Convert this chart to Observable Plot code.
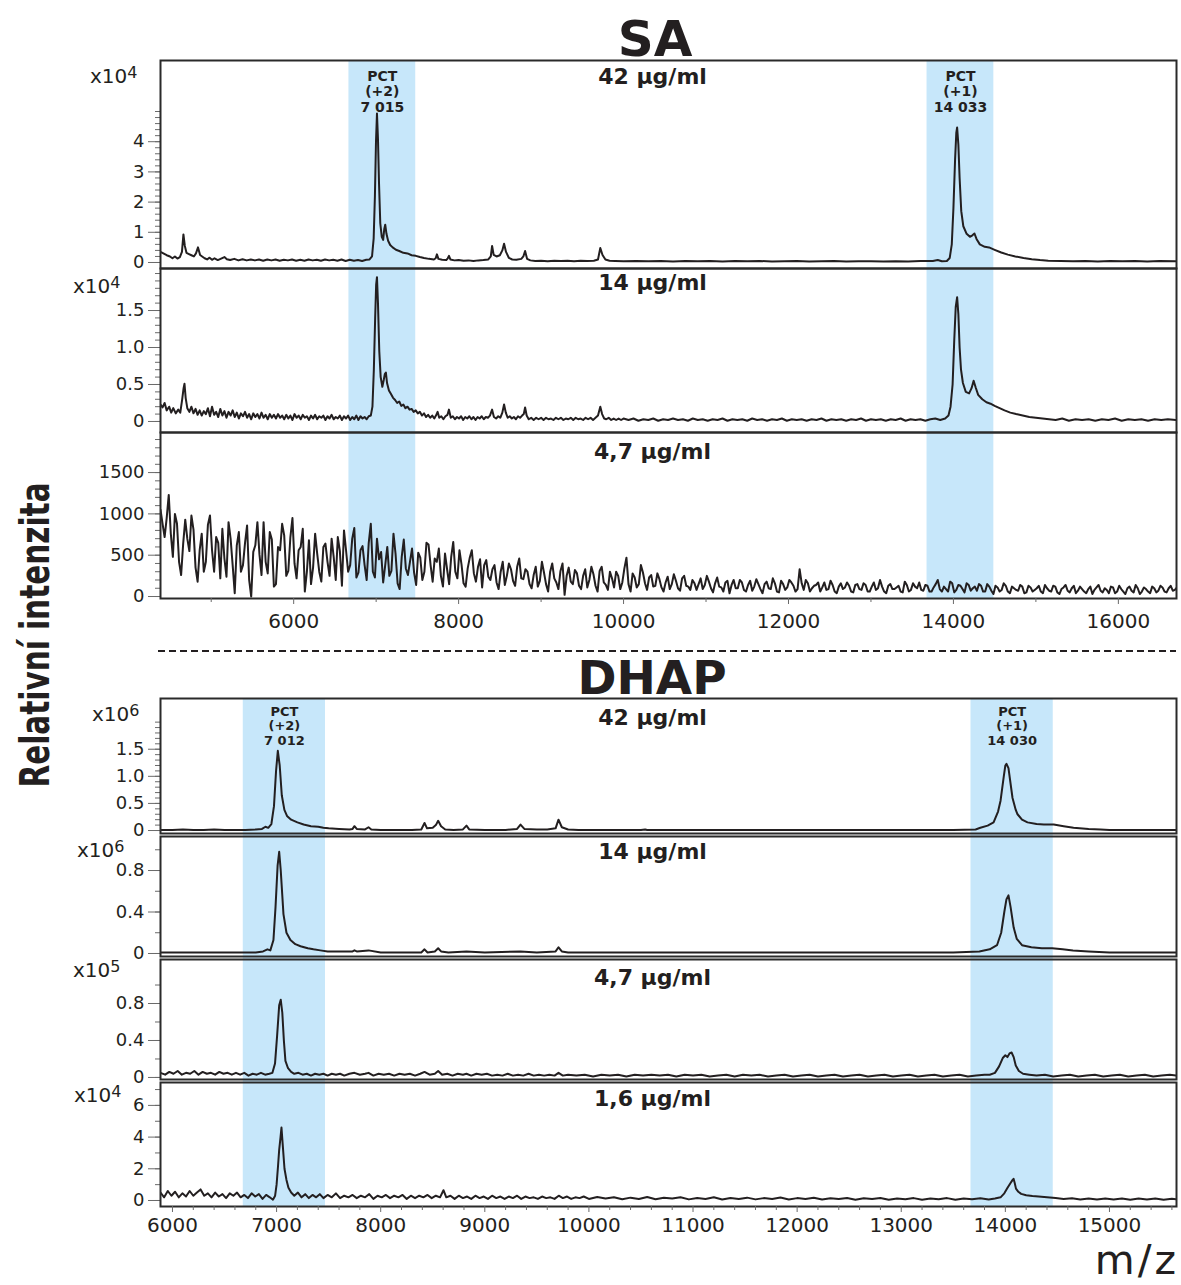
<!DOCTYPE html>
<html><head><meta charset="utf-8">
<script src="https://cdn.jsdelivr.net/npm/d3@7"></script>
<script src="https://cdn.jsdelivr.net/npm/@observablehq/plot@0.6"></script>
<style>
body{margin:0;background:#fff;}
#root{position:relative;width:1181px;height:1285px;overflow:hidden;font-family:"DejaVu Sans",sans-serif;color:#231f20;}
.pow{position:absolute;font-size:20px;line-height:20px;white-space:nowrap;}
.pow .sup{font-size:16px;position:relative;top:-5px;}
.ttl{position:absolute;font-weight:bold;white-space:nowrap;transform:translateX(-50%);}
</style></head><body><div id="root"></div>
<script>
// ---------- data ----------
const saXDomain = [4385, 16705];
const dhapXDomain = [5885, 15644];
const saBands = [[6670, 7480], [13680, 14490]];
const dhapBands = [[6680, 7470], [13670, 14460]];
const saPctTexts = ["PCT\n(+2)\n7 015", "PCT\n(+1)\n14 033"];
const dhapPctTexts = ["PCT\n(+2)\n7 012", "PCT\n(+1)\n14 030"];
const saXTicks = [6000, 8000, 10000, 12000, 14000, 16000];
const saXMinor = [5000, 7000, 9000, 11000, 13000, 15000];
const dhapXTicks = [6000, 7000, 8000, 9000, 10000, 11000, 12000, 13000, 14000, 15000];
const saLabels = ["42 µg/ml", "14 µg/ml", "4,7 µg/ml"];
const dhapLabels = ["42 µg/ml", "14 µg/ml", "4,7 µg/ml", "1,6 µg/ml"];

// SA 42 µg/ml (x10^4)
const sa42 = [[4385,0.35],[4420,0.3],[4460,0.24],[4500,0.2],[4530,0.14],[4560,0.2],[4590,0.13],[4620,0.18],[4645,0.35],[4663,0.93],[4680,0.55],[4700,0.32],[4730,0.28],[4760,0.24],[4790,0.2],[4815,0.3],[4840,0.5],[4865,0.25],[4890,0.2],[4920,0.14],[4950,0.1],[4980,0.16],[5010,0.09],[5040,0.14],[5080,0.08],[5120,0.13],[5160,0.18],[5190,0.11],[5230,0.08],[5280,0.12],[5330,0.07],[5380,0.11],[5430,0.07],[5480,0.1],[5530,0.07],[5580,0.1],[5630,0.06],[5680,0.1],[5730,0.07],[5780,0.1],[5830,0.06],[5880,0.09],[5930,0.07],[5980,0.1],[6030,0.06],[6080,0.09],[6130,0.06],[6180,0.1],[6230,0.07],[6280,0.09],[6330,0.06],[6380,0.1],[6430,0.07],[6480,0.09],[6530,0.06],[6580,0.1],[6630,0.05],[6680,0.09],[6730,0.06],[6780,0.08],[6830,0.05],[6880,0.09],[6920,0.1],[6950,0.2],[6970,0.8],[6985,2.2],[6998,4.0],[7010,4.93],[7022,4.1],[7035,2.6],[7050,1.3],[7068,0.85],[7085,0.75],[7098,1.1],[7110,1.25],[7125,0.95],[7145,0.72],[7170,0.58],[7200,0.5],[7240,0.42],[7280,0.38],[7330,0.32],[7380,0.3],[7430,0.24],[7480,0.22],[7530,0.18],[7580,0.15],[7640,0.12],[7700,0.1],[7722,0.14],[7737,0.27],[7755,0.12],[7800,0.09],[7850,0.08],[7868,0.14],[7883,0.22],[7900,0.1],[7950,0.07],[8000,0.08],[8060,0.06],[8120,0.07],[8180,0.05],[8240,0.07],[8300,0.08],[8360,0.1],[8390,0.2],[8406,0.55],[8425,0.25],[8460,0.2],[8500,0.24],[8530,0.4],[8551,0.62],[8575,0.35],[8610,0.15],[8650,0.1],[8700,0.09],[8760,0.12],[8785,0.2],[8806,0.38],[8830,0.12],[8870,0.07],[8930,0.05],[9000,0.06],[9080,0.04],[9160,0.06],[9240,0.05],[9320,0.06],[9400,0.04],[9480,0.06],[9560,0.05],[9640,0.06],[9690,0.1],[9718,0.48],[9745,0.25],[9780,0.1],[9830,0.06],[9900,0.05],[10000,0.04],[10150,0.05],[10300,0.04],[10450,0.05],[10600,0.03],[10750,0.05],[10900,0.04],[11050,0.05],[11200,0.03],[11350,0.05],[11500,0.04],[11650,0.05],[11800,0.03],[11950,0.04],[12100,0.05],[12250,0.03],[12400,0.04],[12550,0.05],[12700,0.03],[12850,0.04],[13000,0.04],[13150,0.03],[13300,0.04],[13450,0.03],[13600,0.05],[13750,0.05],[13810,0.08],[13860,0.04],[13920,0.05],[13955,0.15],[13980,0.6],[14000,1.8],[14020,3.4],[14035,4.3],[14045,4.47],[14060,3.9],[14075,2.8],[14095,1.7],[14120,1.2],[14160,0.95],[14200,0.85],[14230,0.9],[14255,0.96],[14280,0.78],[14320,0.6],[14380,0.52],[14432,0.5],[14500,0.42],[14580,0.33],[14660,0.26],[14750,0.2],[14850,0.15],[14950,0.11],[15050,0.08],[15150,0.06],[15300,0.05],[15450,0.04],[15600,0.05],[15750,0.03],[15900,0.05],[16050,0.04],[16200,0.05],[16350,0.03],[16500,0.05],[16705,0.04]];

// SA 14 µg/ml (x10^4)
const sa14 = [[4385,0.23],[4410,0.19],[4435,0.25],[4460,0.15],[4490,0.2],[4515,0.12],[4540,0.18],[4570,0.11],[4600,0.16],[4625,0.12],[4648,0.3],[4665,0.45],[4676,0.51],[4690,0.32],[4710,0.18],[4735,0.13],[4760,0.2],[4785,0.11],[4810,0.17],[4835,0.09],[4860,0.15],[4885,0.08],[4910,0.14],[4935,0.1],[4960,0.18],[4985,0.07],[5010,0.2],[5035,0.09],[5060,0.13],[5085,0.06],[5110,0.17],[5135,0.08],[5160,0.14],[5185,0.05],[5210,0.13],[5235,0.08],[5260,0.15],[5285,0.06],[5310,0.12],[5335,0.04],[5360,0.11],[5385,0.07],[5410,0.13],[5435,0.05],[5460,0.1],[5485,0.03],[5510,0.11],[5535,0.06],[5560,0.1],[5585,0.04],[5610,0.12],[5635,0.05],[5660,0.09],[5685,0.03],[5710,0.1],[5735,0.05],[5760,0.09],[5785,0.04],[5810,0.1],[5835,0.05],[5860,0.08],[5885,0.03],[5910,0.09],[5935,0.04],[5960,0.08],[5985,0.02],[6010,0.1],[6035,0.05],[6060,0.08],[6085,0.03],[6110,0.09],[6135,0.05],[6160,0.07],[6185,0.02],[6210,0.08],[6235,0.04],[6260,0.09],[6285,0.03],[6310,0.07],[6335,0.05],[6360,0.08],[6385,0.02],[6410,0.07],[6435,0.04],[6460,0.09],[6485,0.03],[6510,0.06],[6535,0.04],[6560,0.08],[6585,0.02],[6610,0.07],[6635,0.04],[6660,0.08],[6685,0.02],[6710,0.06],[6735,0.03],[6760,0.08],[6785,0.02],[6810,0.07],[6835,0.04],[6860,0.06],[6885,0.03],[6910,0.07],[6935,0.08],[6955,0.2],[6972,0.7],[6988,1.4],[7000,1.85],[7010,1.95],[7022,1.6],[7038,0.95],[7055,0.6],[7075,0.47],[7092,0.56],[7105,0.64],[7118,0.66],[7132,0.52],[7155,0.42],[7180,0.37],[7205,0.32],[7230,0.29],[7255,0.25],[7280,0.27],[7305,0.21],[7330,0.23],[7355,0.18],[7380,0.2],[7405,0.16],[7430,0.17],[7455,0.13],[7480,0.15],[7505,0.11],[7530,0.13],[7555,0.08],[7580,0.11],[7605,0.06],[7630,0.09],[7655,0.05],[7680,0.08],[7705,0.04],[7725,0.08],[7745,0.13],[7765,0.05],[7790,0.07],[7815,0.03],[7840,0.07],[7865,0.09],[7883,0.16],[7905,0.05],[7930,0.07],[7955,0.03],[7980,0.06],[8005,0.04],[8030,0.07],[8055,0.02],[8080,0.06],[8105,0.04],[8130,0.07],[8155,0.03],[8180,0.06],[8205,0.02],[8230,0.06],[8255,0.04],[8280,0.07],[8305,0.03],[8330,0.06],[8355,0.05],[8380,0.08],[8406,0.16],[8428,0.06],[8455,0.04],[8480,0.07],[8505,0.05],[8530,0.12],[8551,0.23],[8572,0.12],[8595,0.05],[8620,0.07],[8645,0.04],[8670,0.06],[8695,0.03],[8720,0.07],[8745,0.05],[8770,0.08],[8790,0.1],[8806,0.19],[8825,0.08],[8850,0.03],[8880,0.05],[8910,0.02],[8940,0.05],[8970,0.03],[9000,0.05],[9030,0.02],[9060,0.05],[9090,0.03],[9120,0.04],[9150,0.02],[9180,0.05],[9210,0.03],[9240,0.05],[9270,0.02],[9300,0.04],[9330,0.03],[9360,0.05],[9390,0.02],[9420,0.05],[9450,0.03],[9480,0.04],[9510,0.02],[9540,0.05],[9570,0.03],[9600,0.05],[9630,0.02],[9660,0.05],[9690,0.08],[9718,0.2],[9740,0.1],[9765,0.04],[9790,0.03],[9820,0.05],[9850,0.02],[9880,0.04],[9910,0.02],[9940,0.04],[9970,0.02],[10000,0.04],[10060,0.02],[10120,0.04],[10180,0.01],[10240,0.03],[10300,0.02],[10360,0.04],[10420,0.01],[10480,0.03],[10540,0.02],[10600,0.04],[10660,0.02],[10720,0.03],[10780,0.01],[10840,0.04],[10900,0.02],[10960,0.03],[11020,0.01],[11080,0.03],[11140,0.02],[11200,0.04],[11260,0.01],[11320,0.03],[11380,0.02],[11440,0.03],[11500,0.01],[11560,0.04],[11620,0.02],[11680,0.03],[11740,0.01],[11800,0.03],[11860,0.02],[11920,0.04],[11980,0.01],[12040,0.03],[12100,0.02],[12160,0.03],[12220,0.01],[12280,0.03],[12340,0.02],[12400,0.04],[12460,0.01],[12520,0.03],[12580,0.02],[12640,0.03],[12700,0.01],[12760,0.03],[12820,0.02],[12880,0.04],[12940,0.01],[13000,0.03],[13060,0.02],[13120,0.03],[13180,0.01],[13240,0.03],[13300,0.02],[13360,0.04],[13420,0.01],[13480,0.03],[13540,0.02],[13600,0.03],[13660,0.01],[13720,0.03],[13780,0.04],[13840,0.02],[13900,0.04],[13940,0.08],[13965,0.2],[13990,0.5],[14010,1.1],[14028,1.55],[14045,1.68],[14060,1.45],[14075,1.0],[14092,0.7],[14115,0.52],[14150,0.4],[14190,0.38],[14220,0.45],[14245,0.55],[14270,0.46],[14300,0.36],[14350,0.3],[14400,0.26],[14450,0.24],[14500,0.21],[14560,0.18],[14620,0.15],[14690,0.12],[14760,0.1],[14840,0.08],[14920,0.06],[15000,0.05],[15080,0.04],[15160,0.03],[15240,0.02],[15320,0.04],[15400,0.01],[15480,0.03],[15560,0.02],[15640,0.03],[15720,0.01],[15800,0.03],[15880,0.02],[15960,0.04],[16040,0.01],[16120,0.03],[16200,0.02],[16280,0.03],[16360,0.01],[16440,0.03],[16520,0.02],[16600,0.03],[16705,0.02]];

// SA 4,7 µg/ml (raw): readings every 50 m/z from 4385, plus the readings in between (4410, 4460, ...)
const sa47Start = 4385, sa47Step = 50;
const sa47Values = [
1050,720,1230,480,880,260,930,550,810,180,
760,420,980,300,650,820,240,700,40,780,
380,860,0,620,510,900,280,690,150,560,
740,310,950,220,600,60,680,350,520,180,
640,250,480,720,130,560,380,830,290,610,
200,880,230,450,170,600,310,520,90,690,
260,580,140,470,300,630,180,420,250,520,
150,660,220,390,120,470,280,360,110,440,
200,380,90,420,250,330,130,460,210,300,
100,360,190,290,60,400,170,310,20,350,
150,280,90,330,200,270,60,360,140,300,
110,250,170,470,60,230,150,290,80,260,
130,210,60,240,150,190,70,250,120,200,
80,220,140,180,50,230,110,170,40,200,
100,170,60,190,120,150,40,180,90,160,
50,150,110,170,60,330,80,160,100,140,
60,170,90,140,40,160,110,130,50,150,
80,140,60,170,100,120,40,150,90,130,
50,140,80,120,170,70,130,60,150,90,
120,60,160,80,130,50,140,100,70,130,
60,120,30,110,80,130,40,100,70,120,
50,110,80,130,40,100,60,120,30,110,
70,100,40,120,60,90,30,110,70,100,
40,110,60,90,30,120,50,100,60,90,
40,100,70,110,50,130,80,190];
const sa47Between = [
880,950,760,1000,420,640,700,980,350,560,
300,870,560,720,220,460,900,380,620,300,
650,200,540,900,260,420,780,120,600,880,
250,720,400,560,820,300,150,760,300,600,
420,700,200,550,800,300,700,230,560,380,
650,300,700,540,380,250,760,160,480,340,
420,290,530,200,650,380,460,580,120,330,
480,300,560,160,340,560,180,450,380,240,
330,170,300,140,400,190,360,220,330,150,
260,120,420,150,300,220,90,400,250,180,
320,130,250,110,360,130,310,170,80,220,
300,90,340,150,280,110,380,160,230,120,
280,110,170,90,270,100,220,130,80,160,
150,90,250,100,160,120,60,190,140,100,
200,80,140,70,210,90,150,100,220,60,
190,80,200,130,90,160,200,60,130,170,
110,80,190,60,120,90,170,60,140,90,
160,60,120,80,200,60,130,90,110,60,
180,60,160,100,80,140,60,110,200,60,
90,180,50,140,90,160,70,120,150,60,
150,70,130,60,160,60,120,80,140,40,
130,60,100,60,140,70,130,50,90,140,
50,130,70,90,40,120,80,140,50,80,
120,40,130,60,100,70,140,30,110,60,
120,50,130,60,100,70,110];

// DHAP 42 µg/ml (x10^6)
const dhap42 = [[5885,0.01],[6000,0.01],[6100,0.02],[6200,0.01],[6300,0.01],[6400,0.02],[6500,0.01],[6600,0.01],[6700,0.01],[6800,0.02],[6860,0.03],[6893,0.07],[6920,0.05],[6950,0.12],[6975,0.45],[6995,1.1],[7012,1.47],[7030,1.2],[7050,0.65],[7075,0.38],[7100,0.27],[7140,0.2],[7200,0.15],[7260,0.11],[7330,0.08],[7400,0.07],[7450,0.05],[7500,0.04],[7600,0.03],[7700,0.02],[7730,0.03],[7748,0.08],[7770,0.03],[7850,0.02],[7883,0.06],[7910,0.02],[8000,0.01],[8100,0.01],[8200,0.01],[8300,0.01],[8390,0.02],[8421,0.14],[8445,0.04],[8500,0.05],[8530,0.1],[8552,0.18],[8580,0.08],[8620,0.02],[8700,0.01],[8790,0.02],[8824,0.09],[8850,0.02],[9000,0.01],[9100,0.01],[9200,0.01],[9310,0.03],[9343,0.11],[9380,0.03],[9500,0.02],[9600,0.02],[9680,0.04],[9708,0.2],[9740,0.06],[9800,0.02],[9900,0.01],[10000,0.01],[10500,0.01],[10540,0.02],[10560,0.01],[11000,0.01],[11500,0.01],[12000,0.01],[12500,0.01],[13000,0.01],[13500,0.01],[13714,0.02],[13760,0.05],[13830,0.09],[13887,0.15],[13930,0.35],[13954,0.55],[13985,1.0],[14000,1.2],[14011,1.23],[14030,1.15],[14069,0.6],[14100,0.38],[14117,0.3],[14160,0.2],[14213,0.15],[14300,0.12],[14370,0.11],[14465,0.11],[14560,0.08],[14655,0.05],[14800,0.03],[14914,0.02],[15000,0.01],[15300,0.01],[15644,0.01]];

// DHAP 14 µg/ml (x10^6)
const dhap14 = [[5885,0.01],[6000,0.01],[6200,0.01],[6400,0.01],[6600,0.01],[6800,0.01],[6870,0.02],[6912,0.04],[6940,0.03],[6970,0.13],[6990,0.45],[7010,0.85],[7025,0.98],[7040,0.8],[7066,0.38],[7095,0.2],[7133,0.13],[7180,0.09],[7230,0.07],[7300,0.05],[7354,0.04],[7420,0.03],[7490,0.02],[7600,0.02],[7730,0.02],[7748,0.03],[7770,0.02],[7883,0.03],[8000,0.01],[8200,0.01],[8390,0.01],[8421,0.04],[8450,0.01],[8520,0.02],[8552,0.05],[8580,0.02],[8650,0.01],[8824,0.02],[9000,0.01],[9343,0.02],[9500,0.01],[9680,0.02],[9708,0.06],[9740,0.02],[9800,0.01],[10500,0.01],[11500,0.01],[12500,0.01],[13500,0.01],[13750,0.02],[13850,0.04],[13920,0.08],[13960,0.2],[13990,0.4],[14010,0.52],[14030,0.56],[14050,0.45],[14080,0.25],[14110,0.14],[14160,0.08],[14250,0.06],[14350,0.05],[14450,0.05],[14550,0.04],[14650,0.03],[14800,0.02],[15000,0.01],[15644,0.01]];

// DHAP 4,7 µg/ml (x10^5)
const dhap47 = [[5885,0.05],[5930,0.03],[5970,0.06],[6010,0.04],[6050,0.07],[6090,0.03],[6130,0.05],[6170,0.04],[6210,0.07],[6250,0.03],[6290,0.06],[6330,0.04],[6370,0.05],[6410,0.03],[6450,0.06],[6490,0.04],[6530,0.05],[6570,0.03],[6610,0.05],[6650,0.03],[6690,0.05],[6730,0.02],[6770,0.04],[6810,0.03],[6850,0.05],[6890,0.03],[6930,0.04],[6960,0.05],[6985,0.15],[7005,0.45],[7025,0.78],[7040,0.84],[7055,0.7],[7070,0.4],[7085,0.18],[7110,0.1],[7140,0.06],[7170,0.04],[7210,0.05],[7250,0.03],[7290,0.04],[7330,0.02],[7370,0.04],[7410,0.03],[7450,0.04],[7490,0.02],[7530,0.04],[7570,0.03],[7610,0.04],[7650,0.02],[7700,0.04],[7748,0.05],[7800,0.03],[7850,0.04],[7883,0.05],[7930,0.02],[7980,0.04],[8030,0.03],[8080,0.04],[8130,0.02],[8180,0.04],[8230,0.03],[8280,0.04],[8330,0.02],[8380,0.04],[8421,0.06],[8470,0.03],[8520,0.04],[8552,0.07],[8590,0.03],[8640,0.04],[8690,0.02],[8740,0.04],[8790,0.03],[8824,0.04],[8870,0.02],[8920,0.04],[8970,0.03],[9020,0.04],[9070,0.02],[9120,0.03],[9170,0.02],[9220,0.04],[9270,0.02],[9320,0.03],[9370,0.02],[9420,0.04],[9470,0.02],[9520,0.03],[9570,0.02],[9620,0.03],[9670,0.02],[9708,0.05],[9750,0.02],[9800,0.03],[9880,0.02],[9960,0.03],[10040,0.01],[10120,0.03],[10200,0.02],[10280,0.03],[10360,0.01],[10440,0.03],[10520,0.02],[10600,0.03],[10680,0.02],[10760,0.03],[10840,0.01],[10920,0.03],[11000,0.02],[11080,0.03],[11160,0.01],[11240,0.02],[11320,0.03],[11400,0.01],[11480,0.03],[11560,0.02],[11640,0.03],[11720,0.01],[11800,0.02],[11880,0.03],[11960,0.01],[12040,0.02],[12120,0.03],[12200,0.01],[12280,0.02],[12360,0.03],[12440,0.01],[12520,0.02],[12600,0.03],[12680,0.01],[12760,0.02],[12840,0.03],[12920,0.01],[13000,0.02],[13080,0.03],[13160,0.01],[13240,0.02],[13320,0.03],[13400,0.01],[13480,0.02],[13560,0.03],[13640,0.01],[13720,0.02],[13800,0.03],[13850,0.03],[13900,0.05],[13940,0.12],[13975,0.21],[14000,0.24],[14020,0.22],[14040,0.26],[14060,0.27],[14080,0.22],[14100,0.13],[14130,0.07],[14170,0.04],[14230,0.03],[14300,0.02],[14380,0.03],[14460,0.01],[14540,0.02],[14620,0.03],[14700,0.01],[14780,0.02],[14860,0.03],[14940,0.01],[15020,0.02],[15100,0.03],[15180,0.01],[15260,0.02],[15340,0.03],[15420,0.01],[15500,0.02],[15580,0.03],[15644,0.02]];

// DHAP 1,6 µg/ml (x10^4)
const dhap16 = [[5885,0.5],[5920,0.2],[5955,0.6],[5990,0.3],[6025,0.55],[6060,0.2],[6095,0.45],[6130,0.25],[6165,0.6],[6200,0.3],[6235,0.5],[6270,0.7],[6305,0.3],[6340,0.45],[6375,0.2],[6410,0.5],[6445,0.25],[6480,0.4],[6515,0.15],[6550,0.45],[6585,0.3],[6620,0.5],[6655,0.2],[6690,0.35],[6725,0.15],[6760,0.45],[6795,0.25],[6830,0.4],[6865,0.1],[6900,0.35],[6935,0.2],[6965,0.05],[6986,0.3],[7000,1.0],[7013,2.1],[7025,3.2],[7038,4.0],[7047,4.6],[7058,3.6],[7076,2.0],[7095,1.3],[7114,0.8],[7140,0.5],[7170,0.3],[7205,0.5],[7240,0.2],[7275,0.4],[7310,0.15],[7345,0.35],[7380,0.2],[7415,0.4],[7450,0.15],[7490,0.35],[7530,0.2],[7570,0.45],[7610,0.15],[7650,0.3],[7690,0.2],[7730,0.35],[7770,0.15],[7810,0.3],[7850,0.2],[7890,0.4],[7930,0.1],[7970,0.3],[8010,0.2],[8050,0.35],[8090,0.15],[8130,0.3],[8170,0.2],[8210,0.35],[8250,0.1],[8290,0.3],[8330,0.15],[8370,0.3],[8410,0.2],[8450,0.35],[8490,0.15],[8530,0.3],[8570,0.2],[8603,0.65],[8630,0.2],[8670,0.3],[8710,0.1],[8750,0.3],[8790,0.15],[8830,0.25],[8870,0.1],[8910,0.3],[8950,0.15],[8990,0.25],[9030,0.1],[9070,0.3],[9110,0.15],[9150,0.25],[9190,0.1],[9230,0.25],[9270,0.15],[9310,0.3],[9350,0.1],[9390,0.25],[9430,0.15],[9470,0.2],[9510,0.1],[9550,0.25],[9590,0.15],[9630,0.2],[9670,0.1],[9710,0.3],[9750,0.15],[9790,0.25],[9830,0.1],[9870,0.2],[9910,0.15],[9950,0.25],[10000,0.1],[10080,0.22],[10160,0.12],[10240,0.2],[10320,0.08],[10400,0.18],[10480,0.1],[10560,0.22],[10640,0.08],[10720,0.17],[10800,0.12],[10880,0.2],[10960,0.07],[11040,0.16],[11120,0.1],[11200,0.2],[11280,0.06],[11360,0.16],[11440,0.1],[11520,0.18],[11600,0.07],[11680,0.15],[11760,0.1],[11840,0.19],[11920,0.06],[12000,0.15],[12080,0.1],[12160,0.17],[12240,0.06],[12320,0.14],[12400,0.09],[12480,0.16],[12560,0.05],[12640,0.14],[12720,0.09],[12800,0.16],[12880,0.05],[12960,0.13],[13040,0.08],[13120,0.15],[13200,0.05],[13280,0.13],[13360,0.08],[13440,0.15],[13520,0.05],[13600,0.12],[13680,0.08],[13760,0.14],[13840,0.06],[13900,0.12],[13954,0.2],[13990,0.45],[14021,0.8],[14050,1.1],[14070,1.3],[14079,1.37],[14090,1.1],[14102,0.75],[14125,0.55],[14152,0.42],[14200,0.33],[14260,0.28],[14319,0.25],[14400,0.2],[14483,0.15],[14560,0.1],[14640,0.14],[14720,0.07],[14800,0.13],[14880,0.06],[14960,0.12],[15040,0.07],[15120,0.13],[15200,0.05],[15280,0.12],[15360,0.07],[15440,0.13],[15520,0.05],[15600,0.11],[15644,0.08]];

// ---------- drawing ----------
const W = 1181, ML = 160, MR = 5;
const ink = "#231f20", tickC = "#6a6a6a", frameC = "#2a2a2a", bandC = "#c7e7fa";
const root = document.getElementById("root");
const svgStyle = {background: "transparent", overflow: "visible", fontFamily: "DejaVu Sans, sans-serif", fontSize: "18px", color: ink};
function place(el, top) { el.style.position = "absolute"; el.style.left = "0px"; el.style.top = top + "px"; root.appendChild(el); }

const sa47 = [];
sa47Values.forEach((v, i) => {
  sa47.push([sa47Start + i * sa47Step, v]);
  if (i < sa47Between.length) sa47.push([sa47Start + i * sa47Step + sa47Step / 2, sa47Between[i]]);
});
const fmtInt = d => String(d);
const fmt1 = d => d === 0 ? "0" : d.toFixed(1);

function bandPlot(bands, xDomain, top, bottom) {
  place(Plot.plot({
    width: W, height: bottom - top, marginLeft: ML, marginRight: MR, marginTop: 0, marginBottom: 0,
    x: {domain: xDomain, axis: null}, style: svgStyle,
    marks: [Plot.rect(bands, {x1: d => d[0], x2: d => d[1], fill: bandC})]
  }), top);
}

function panel(c) {
  const mb = c.xTicks ? 45 : 0;
  const marks = [
    Plot.line(c.data, {x: d => d[0], y: d => d[1], stroke: ink, strokeWidth: c.sw || 2, strokeLinejoin: "round", clip: true}),
    Plot.axisY({ticks: c.minor, tickSize: 5, tickFormat: () => "", fill: "none", stroke: tickC, label: null}),
    Plot.axisY({ticks: c.ticks, tickSize: 12, tickPadding: 4, tickFormat: c.fmt, stroke: tickC, fill: ink, fontSize: 18, label: null}),
    Plot.frame({stroke: frameC, strokeWidth: 2}),
    Plot.text([c.label], {text: d => d, frameAnchor: "top", lineAnchor: "top", dx: -16, dy: c.ldy, fontSize: 22, fontWeight: "bold", fill: ink})
  ];
  if (c.annots) marks.push(Plot.text(c.annots, {x: d => d.x, text: d => d.t, frameAnchor: "top", lineAnchor: "top", dy: c.ady, fontSize: c.afs, fontWeight: "bold", lineHeight: c.alh, fill: ink}));
  if (c.xTicks) {
    marks.push(Plot.axisX({ticks: c.xMinor, tickSize: 4, tickFormat: () => "", fill: "none", stroke: tickC, label: null}));
    marks.push(Plot.axisX({ticks: c.xTicks, tickSize: 6, tickPadding: c.xpad, tickFormat: fmtInt, stroke: tickC, fill: ink, fontSize: 20, label: null}));
  }
  const x = c.xTicks ? {domain: c.xd} : {domain: c.xd, axis: null};
  place(Plot.plot({
    width: W, height: c.B - c.T + mb, marginLeft: ML, marginRight: MR, marginTop: 0, marginBottom: mb,
    x, y: {domain: c.yd}, style: svgStyle, marks
  }), c.T);
}

const saAnn = saBands.map((b, i) => ({x: (b[0] + b[1]) / 2, t: saPctTexts[i]}));
const dhapAnn = dhapBands.map((b, i) => ({x: (b[0] + b[1]) / 2, t: dhapPctTexts[i]}));

// SA group
bandPlot(saBands, saXDomain, 60, 598);
panel({data: sa42, xd: saXDomain, yd: [-0.199, 6.689], T: 60, B: 268, ticks: [0, 1, 2, 3, 4], minor: d3.range(0, 5.01, 0.2), fmt: fmtInt, label: saLabels[0], ldy: 8, annots: saAnn, ady: 9, afs: 14, alh: 1.12});
panel({data: sa14, xd: saXDomain, yd: [-0.149, 2.068], T: 268, B: 432, ticks: [0, 0.5, 1, 1.5], minor: d3.range(0, 2.01, 0.1), fmt: fmt1, label: saLabels[1], ldy: 6});
panel({data: sa47, xd: saXDomain, yd: [-24, 1985], T: 432, B: 598, ticks: [0, 500, 1000, 1500], minor: d3.range(0, 1901, 100), fmt: fmtInt, label: saLabels[2], ldy: 11, xTicks: saXTicks, xMinor: saXMinor, xpad: 9, sw: 2});

// DHAP group
bandPlot(dhapBands, dhapXDomain, 698, 1206);
panel({data: dhap42, xd: dhapXDomain, yd: [-0.055, 2.436], T: 698, B: 833, ticks: [0, 0.5, 1, 1.5], minor: d3.range(0, 2.01, 0.1), fmt: fmt1, label: dhapLabels[0], ldy: 11, annots: dhapAnn, ady: 7, afs: 13, alh: 1.12});
panel({data: dhap14, xd: dhapXDomain, yd: [-0.029, 1.128], T: 836, B: 956, ticks: [0, 0.4, 0.8], minor: d3.range(0, 1.01, 0.2), fmt: fmt1, label: dhapLabels[1], ldy: 7});
panel({data: dhap47, xd: dhapXDomain, yd: [-0.022, 1.276], T: 959, B: 1079, ticks: [0, 0.4, 0.8], minor: d3.range(0, 1.01, 0.2), fmt: fmt1, label: dhapLabels[2], ldy: 10});
panel({data: dhap16, xd: dhapXDomain, yd: [-0.379, 7.445], T: 1082, B: 1206, ticks: [0, 2, 4, 6], minor: d3.range(0, 7.01, 1), fmt: fmtInt, label: dhapLabels[3], ldy: 8, xTicks: dhapXTicks, xMinor: d3.range(6000, 15601, 200).filter(v => v % 1000 !== 0), xpad: 5});

// ---------- text around the panels ----------
function html(tag, cls, style, content) { const e = document.createElement(tag); if (cls) e.className = cls; Object.assign(e.style, style); e.innerHTML = content; root.appendChild(e); return e; }
const powers = [["4", 90, 83], ["4", 73, 293], ["6", 92, 721], ["6", 77, 857], ["5", 73, 977], ["4", 74, 1102]];
for (const [p, left, base] of powers) html("div", "pow", {left: left + "px", top: (base - 17) + "px"}, 'x10<span class="sup">' + p + '</span>');
html("div", "ttl", {left: "655px", top: (56 - 0.846 * 50) + "px", fontSize: "50px", lineHeight: "50px"}, "SA");
html("div", "ttl", {left: "652px", top: (694 - 0.846 * 47) + "px", fontSize: "47px", lineHeight: "47px"}, "DHAP");
html("div", "", {position: "absolute", right: "2px", top: (1274.5 - 0.846 * 41) + "px", fontSize: "41px", lineHeight: "41px", letterSpacing: "3px", whiteSpace: "nowrap"}, "m/z");
html("div", "", {position: "absolute", left: "-165px", top: "615px", width: "400px", height: "40px", lineHeight: "40px", textAlign: "center", fontFamily: '"Liberation Sans Narrow", "DejaVu Sans Condensed", sans-serif', fontWeight: "bold", fontSize: "40px", transform: "rotate(-90deg) scaleX(0.82)", whiteSpace: "nowrap"}, "Relativní intenzita");
html("div", "", {position: "absolute", left: "0px", top: "646px", width: "1181px", height: "10px"},
  '<svg width="1181" height="10" style="display:block"><line x1="158" x2="1176" y1="5" y2="5" stroke="#231f20" stroke-width="2" stroke-dasharray="7 4"/></svg>');
</script></body></html>
